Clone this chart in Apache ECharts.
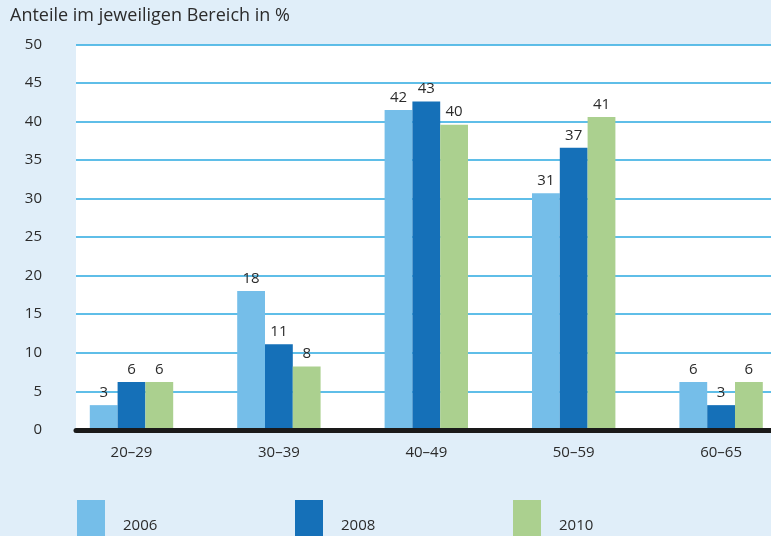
<!DOCTYPE html>
<html>
<head>
<meta charset="utf-8">
<script src="https://cdn.jsdelivr.net/npm/echarts@6/dist/echarts.min.js"></script>
<style>html,body{margin:0;padding:0;background:#e0eef9;}#c{width:771px;height:536px;}</style>
</head>
<body>
<div id="c"></div>
<script>
const categories = ['20–29', '30–39', '40–49', '50–59', '60–65'];
const seriesNames = ['2006', '2008', '2010'];
const values2006 = [3.2, 18.0, 41.5, 30.7, 6.2];
const values2008 = [6.2, 11.1, 42.6, 36.6, 3.2];
const values2010 = [6.2, 8.2, 39.6, 40.6, 6.2];
const yTicks = [0, 5, 10, 15, 20, 25, 30, 35, 40, 45, 50];
const titleText = 'Anteile im jeweiligen Bereich in %';

const colors = ['#75bee9', '#1570b8', '#abd08f'];
const FONT = 'Open Sans';
const TXT = '#2b2b2b';
const allValues = [values2006, values2008, values2010];

const chart = echarts.init(document.getElementById('c'), null, {renderer: 'canvas'});
const legendX = [72, 290, 508];
const option = {
  backgroundColor: '#e0eef9',
  animation: false,
  title: {
    text: titleText, left: 5, top: 2,
    textStyle: {fontFamily: FONT, fontSize: 18, fontWeight: 'normal', color: TXT}
  },
  legend: seriesNames.map((n, i) => ({
    data: [n], left: legendX[i], top: 495,
    icon: 'rect', itemWidth: 28, itemHeight: 36,
    formatter: '{a|{name}}',
    textStyle: {fontFamily: FONT, fontSize: 15, color: TXT,
      rich: {a: {fontFamily: FONT, fontSize: 15, color: TXT, padding: [16, 0, 0, 13]}}}
  })),
  grid: [
    {left: 76, right: 0, top: 44.5, height: 385.3, show: true, backgroundColor: '#ffffff', borderWidth: 0},
    {left: 57.8, width: 737, top: 44.5, height: 385.3, outerBoundsMode: 'none', containLabel: false}
  ],
  xAxis: [
    {gridIndex: 0, type: 'value', min: 0, max: 1, z: 10,
      axisLine: {show: true, onZero: false, lineStyle: {color: '#1a1a1a', width: 5}},
      axisTick: {show: false}, axisLabel: {show: false}, splitLine: {show: false}},
    {gridIndex: 1, type: 'category', data: categories,
      axisLine: {show: false}, axisTick: {show: false},
      axisLabel: {margin: 15, fontFamily: FONT, fontSize: 15, color: TXT}}
  ],
  yAxis: [
    {gridIndex: 0, type: 'value', min: yTicks[0], max: yTicks[yTicks.length - 1], interval: 5,
      axisLine: {show: false}, axisTick: {show: false},
      axisLabel: {margin: 34, fontFamily: FONT, fontSize: 15, color: TXT},
      splitLine: {show: true, lineStyle: {color: '#2aa9e1', width: 1.5}}},
    {gridIndex: 1, type: 'value', min: 0, max: 50, show: false, splitLine: {show: false}}
  ],
  series: seriesNames.map((n, i) => ({
    name: n, type: 'bar', xAxisIndex: 1, yAxisIndex: 1,
    data: allValues[i], barWidth: 27.8, barGap: '0%',
    itemStyle: {color: colors[i]},
    label: {show: true, position: 'top', distance: 5, fontFamily: FONT, fontSize: 15, color: TXT,
      formatter: p => Math.round(p.value)}
  }))
};
chart.setOption(option);
</script>
</body>
</html>
